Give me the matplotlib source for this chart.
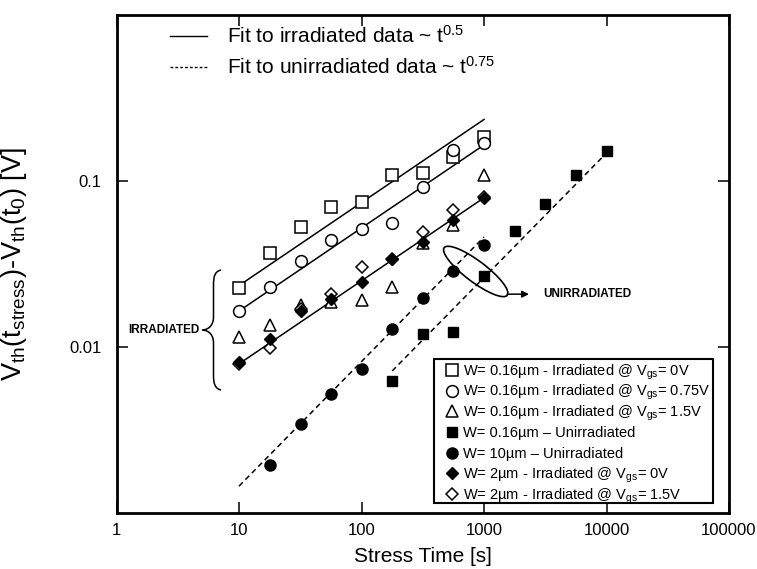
import numpy as np
import matplotlib.pyplot as plt
import matplotlib.transforms as mtransforms
from matplotlib.patches import Ellipse, PathPatch, Rectangle
from matplotlib.path import Path
from matplotlib.ticker import FixedLocator, FixedFormatter, NullLocator

plt.rcParams['font.family'] = ['Liberation Sans', 'DejaVu Sans']
plt.rcParams['mathtext.fontset'] = 'custom'
plt.rcParams['mathtext.rm'] = 'Liberation Sans'
plt.rcParams['mathtext.it'] = 'Liberation Sans:italic'
plt.rcParams['mathtext.bf'] = 'Liberation Sans:bold'

# stress times [s]
t_irr = [10, 18, 32, 56, 100, 178, 316, 562, 1000]
t_w10 = [18, 32, 56, 100, 178, 316, 562, 1000]
t_w016 = [178, 316, 562, 1000, 1778, 3162, 5623, 10000]

# Vth shift [V]
w016_vgs0 = [0.0225, 0.037, 0.053, 0.070, 0.075, 0.108, 0.112, 0.140, 0.184]
w016_vgs075 = [0.0165, 0.023, 0.033, 0.044, 0.051, 0.056, 0.092, 0.153, 0.169]
w016_vgs15 = [0.0114, 0.0135, 0.0178, 0.0187, 0.0191, 0.023, 0.042, 0.054, 0.108]
w016_unirr = [0.0062, 0.012, 0.0123, 0.0267, 0.050, 0.072, 0.108, 0.151]
w10_unirr = [0.00195, 0.00344, 0.00524, 0.00734, 0.0129, 0.0196, 0.0287, 0.041]
w2_vgs0 = [0.0081, 0.0111, 0.0165, 0.0193, 0.0247, 0.034, 0.043, 0.058, 0.0783]
w2_vgs15 = [0.0079, 0.0099, 0.0168, 0.0208, 0.0303, 0.034, 0.0489, 0.0666, 0.080]

# power law fits  dV = A * t^n
irr_coef = [0.0074, 0.0052, 0.0025]
irr_exp = 0.5
irr_range = [10, 1000]
unirr_coef = [0.000258, 0.000147]
unirr_exp = 0.75
unirr_ranges = [[10, 1000], [178, 10000]]

W, H = 757, 569
fig = plt.figure(figsize=(W / 100, H / 100), dpi=100)
ax = fig.add_axes([116.5 / W, 1 - 513 / H, 612.5 / W, 498.3 / H])
ax.set_xscale('log')
ax.set_yscale('log')
ax.set_xlim(1, 100000)
ax.set_ylim(0.001, 1)

# figure pixel coordinates (origin top-left) for the annotations
to_fig = mtransforms.Affine2D().scale(1 / W, -1 / H).translate(0, 1) + fig.transFigure

for a in irr_coef:
    tt = np.array(irr_range, dtype=float)
    ax.plot(tt, a * tt ** irr_exp, color='k', lw=1.1, zorder=2)
for a, rng in zip(unirr_coef, unirr_ranges):
    tt = np.array(rng, dtype=float)
    ax.plot(tt, a * tt ** unirr_exp, color='k', lw=1.1, ls=(0, (3.5, 2.5)), zorder=2)

open_kw = dict(ls='none', mfc='white', mec='black', mew=1.1)
fill_kw = dict(ls='none', mfc='black', mec='black', mew=1.0)

gs = r'$\mathregular{_{gs}}$'
series = [
    # (x, y, marker, size, style, label)
    (t_irr, w016_vgs0, 's', 8, open_kw, 'W= 0.16µm - Irradiated @ V' + gs + '= 0V'),
    (t_irr, w016_vgs075, 'o', 8.5, open_kw, 'W= 0.16µm - Irradiated @ V' + gs + '= 0.75V'),
    (t_irr, w016_vgs15, '^', 8.5, open_kw, 'W= 0.16µm - Irradiated @ V' + gs + '= 1.5V'),
    (t_w016, w016_unirr, 's', 7, fill_kw, 'W= 0.16µm \u2013 Unirradiated'),
    (t_w10, w10_unirr, 'o', 8, fill_kw, 'W= 10µm \u2013 Unirradiated'),
    (t_irr, w2_vgs0, 'D', 6.5, fill_kw, 'W= 2µm - Irradiated @ V' + gs + '= 0V'),
    (t_irr, w2_vgs15, 'D', 6.5, open_kw, 'W= 2µm - Irradiated @ V' + gs + '= 1.5V'),
]
zorders = [3, 3.1, 3.2, 3.5, 3.5, 3.4, 3.3]
for (x, y, m, s, kw, _), z in zip(series, zorders):
    ax.plot(x, y, marker=m, ms=s, zorder=z, **kw)

# legend box, lower right
ax.add_patch(Rectangle((434.3, 359.3), 279, 144, transform=to_fig, fill=True,
                       facecolor='white', edgecolor='black', lw=1.5, zorder=5))
for i, (_, _, m, s, kw, lab) in enumerate(series):
    ry = 370 + i * 20.67
    ax.plot([451.7], [ry], marker=m, ms=s, transform=to_fig, clip_on=False,
            zorder=6, **kw)
    ax.text(463.3, ry + 5.2, lab, transform=to_fig, fontsize=10.5,
            va='baseline', zorder=6)

# fit legend in the upper left
for fy, style, txt in [(0.958, '-', r'Fit to irradiated data ~ $\mathregular{t^{0.5}}$'),
                       (0.895, (0, (2, 1.5)), r'Fit to unirradiated data ~ $\mathregular{t^{0.75}}$')]:
    ax.plot([0.087, 0.148], [fy, fy], transform=ax.transAxes, color='k', lw=1, ls=style)
    ax.text(0.181, fy, txt, transform=ax.transAxes, fontsize=15, va='center')

# unirradiated group marker
ell_tr = fig.dpi_scale_trans + mtransforms.ScaledTranslation(856, 0.02846, ax.transData)
ax.add_patch(Ellipse((0, 0), 0.79, 0.21, angle=-37, fill=False, lw=1.2,
                     transform=ell_tr, zorder=4))
ax.annotate('', xy=(2329, 0.02077), xytext=(1541, 0.02077),
            arrowprops=dict(arrowstyle='-|>', color='k', lw=1.1,
                            shrinkA=0, shrinkB=0, mutation_scale=10))
ax.text(3033, 0.02077, 'UNIRRADIATED', fontsize=8.5, fontweight='bold', va='center')

# brace for the irradiated group
verts = [(221, 270),
         (214.5, 271.5), (213.5, 277), (213.5, 285),
         (213.5, 317),
         (213.5, 325), (209, 329.5), (202.5, 330),
         (209, 330.5), (213.5, 335), (213.5, 343),
         (213.5, 375),
         (213.5, 383), (214.5, 388.5), (221, 390)]
codes = [Path.MOVETO] + [Path.CURVE4] * 3 + [Path.LINETO] + [Path.CURVE4] * 6 + \
        [Path.LINETO] + [Path.CURVE4] * 3
fig.add_artist(PathPatch(Path(verts, codes), fill=False, lw=1.1, transform=to_fig))
ax.text(0.1363, 0.367, 'IRRADIATED', transform=ax.transAxes, fontsize=8.5,
        fontweight='bold', ha='right', va='center')

# axes styling
xt = [1, 10, 100, 1000, 10000, 100000]
ax.xaxis.set_major_locator(FixedLocator(xt))
ax.xaxis.set_major_formatter(FixedFormatter([str(v) for v in xt]))
ax.xaxis.set_minor_locator(NullLocator())
ax.yaxis.set_major_locator(FixedLocator([0.01, 0.1]))
ax.yaxis.set_major_formatter(FixedFormatter(['0.01', '0.1']))
ax.yaxis.set_minor_locator(NullLocator())
ax.tick_params(which='major', direction='in', length=8, width=1.1,
               top=True, right=True, labelsize=12)
ax.tick_params(axis='y', pad=11)
ax.tick_params(axis='x', pad=7)
for s in ax.spines.values():
    s.set_linewidth(2)
    s.set_zorder(7)

ax.set_xlabel('Stress Time [s]', fontsize=15, labelpad=7)
ax.set_ylabel(r'V$\mathregular{_{th}}$(t$\mathregular{_{stress}}$)-V$\mathregular{_{th}}$(t$\mathregular{_{0}}$) [V]',
              fontsize=19.5)
ax.yaxis.set_label_coords(-0.143, 0.5)

fig.savefig('out.png', dpi=100)
